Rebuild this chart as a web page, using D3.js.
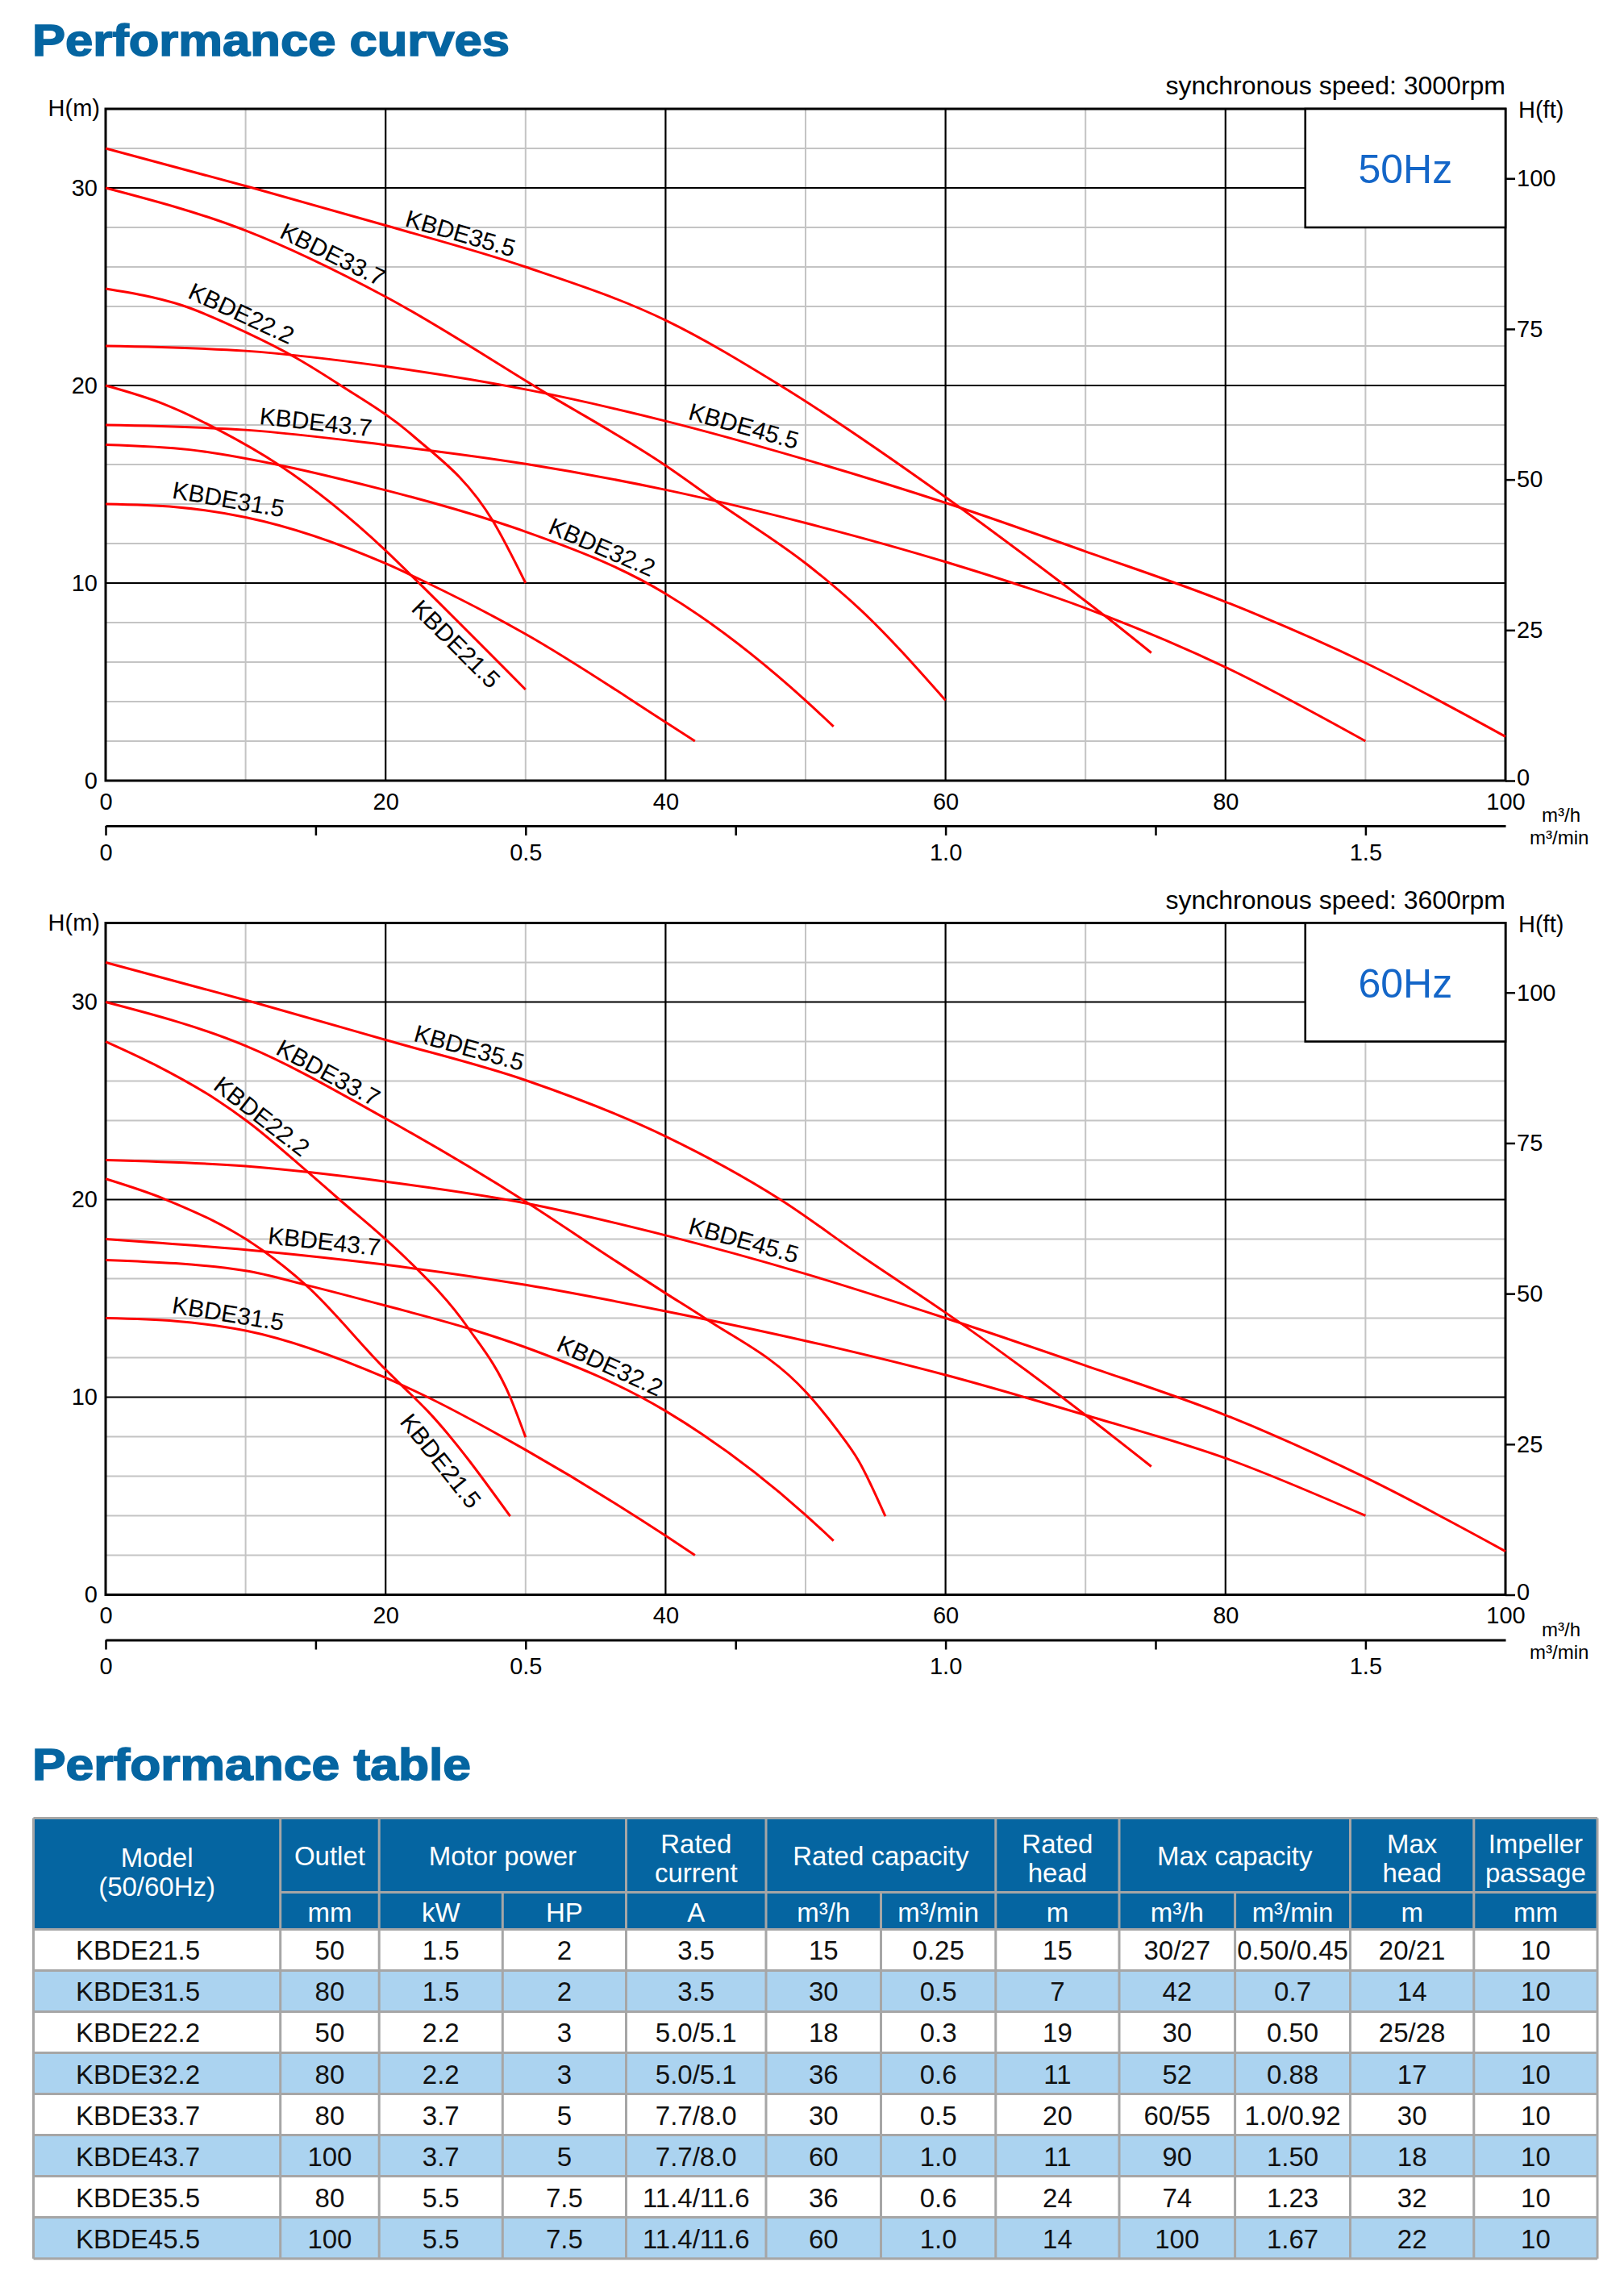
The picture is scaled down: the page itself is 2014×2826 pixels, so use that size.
<!DOCTYPE html>
<html>
<head>
<meta charset="utf-8">
<script src="https://cdn.jsdelivr.net/npm/d3@7/dist/d3.min.js"></script>
<style>
    body { margin: 0; background: #fff; }
    svg text { font-family: 'Liberation Sans', Arial, Helvetica, sans-serif; }
</style>
</head>
<body>
<div class="vis-curves"></div>
<script>
// ---- data ----
const flowTicks = [0, 20, 40, 60, 80, 100];
const flowMinor = [10, 30, 50, 70, 90];
const headTicks = [0, 10, 20, 30];
const headMinor = [2, 4, 6, 8, 12, 14, 16, 18, 22, 24, 26, 28, 32];
const ftTicks = [0, 25, 50, 75, 100];
const minTicks = [0, 0.25, 0.5, 0.75, 1.0, 1.25, 1.5];
const minLabels = ['0', '', '0.5', '', '1.0', '', '1.5'];

// Q (m3/h), H (m) points per model
const curves50 = [
    { model: 'KBDE21.5', pts: [[0, 20], [4.2, 19.05], [8.1, 17.74], [12.4, 15.97], [20, 11.65], [21.9, 10.34], [30, 4.61]] },
    { model: 'KBDE31.5', pts: [[0, 14], [5, 13.85], [10, 13.33], [20, 10.99], [23, 10], [30, 7.42], [40, 2.96], [42.1, 2]] },
    { model: 'KBDE22.2', pts: [[0, 24.9], [5.4, 24.07], [10, 22.7], [13.6, 21.4], [16.8, 20], [21.9, 17.49], [27.7, 13.1], [30, 10]] },
    { model: 'KBDE32.2', pts: [[0, 17], [6, 16.75], [12.4, 15.97], [18.2, 15.02], [20, 14.7], [27.9, 13.1], [30, 12.6], [40, 9.46], [50, 4.06], [52, 2.74]] },
    { model: 'KBDE33.7', pts: [[0, 30], [10, 27.84], [20, 24.49], [31.25, 19.7], [40, 15.95], [43.9, 14.0], [50.1, 10.95], [53.8, 8.73], [60, 4.06]] },
    { model: 'KBDE43.7', pts: [[0, 18], [10, 17.75], [20, 16.99], [30, 16.03], [40, 14.72], [50, 13.04], [60, 11.07], [70, 8.73], [80, 5.74], [90, 2]] },
    { model: 'KBDE35.5', pts: [[0, 32], [10.5, 30], [20, 28.1], [30, 26], [40, 23.3], [48.2, 20], [60, 14.35], [68.3, 10], [72, 8.0], [74.7, 6.47]] },
    { model: 'KBDE45.5', pts: [[0, 22], [10, 21.75], [20, 20.96], [30, 19.8], [40, 18.2], [50, 16.25], [60, 14.06], [70, 11.6], [80, 9.05], [90, 5.96], [100, 2.23]] },
];

const curves60 = [
    { model: 'KBDE21.5', pts: [[0, 21.05], [4.2, 20.03], [11.2, 17.44], [14.3, 15.68], [20, 11.4], [21.1, 10.63], [23, 9.3], [28.9, 3.97]] },
    { model: 'KBDE31.5', pts: [[0, 14], [5, 13.85], [10, 13.37], [20, 10.98], [23, 10], [30, 7.33], [40, 2.99], [42.1, 2]] },
    { model: 'KBDE22.2', pts: [[0, 28], [3.5, 26.83], [7.9, 25.06], [10.1, 23.97], [14.5, 21.36], [16.7, 20], [20, 17.99], [21.5, 17], [25.9, 13.5], [28.9, 10], [30, 7.97]] },
    { model: 'KBDE32.2', pts: [[0, 16.94], [10, 16.4], [14.3, 15.68], [20, 14.63], [26.1, 13.44], [30, 12.52], [40, 9.3], [50, 4.04], [52, 2.73]] },
    { model: 'KBDE33.7', pts: [[0, 30], [10, 27.78], [20, 24.1], [30, 19.9], [36.2, 17], [40, 15.26], [42.8, 14], [50.1, 10.2], [52.3, 8.3], [53.8, 6.77], [55.7, 3.97]] },
    { model: 'KBDE43.7', pts: [[0, 18], [11.4, 17.37], [20, 16.7], [30, 15.68], [40, 14.35], [50, 12.85], [60, 11.12], [70, 9.09], [80, 6.91], [90, 4]] },
    { model: 'KBDE35.5', pts: [[0, 32], [10.5, 30], [20, 28.08], [30, 26.04], [40, 23.2], [48.2, 20], [54.2, 17.04], [60, 14.28], [70, 9.09], [74.7, 6.49]] },
    { model: 'KBDE45.5', pts: [[0, 22], [10, 21.69], [20, 20.91], [30, 19.82], [40, 18.19], [50, 16.24], [60, 14], [70, 11.6], [80, 9.09], [90, 5.93], [100, 2.2]] },
];

// table columns
const models = ['KBDE21.5', 'KBDE31.5', 'KBDE22.2', 'KBDE32.2', 'KBDE33.7', 'KBDE43.7', 'KBDE35.5', 'KBDE45.5'];
const outletMm = ['50', '80', '50', '80', '80', '100', '80', '100'];
const powerKw = ['1.5', '1.5', '2.2', '2.2', '3.7', '3.7', '5.5', '5.5'];
const powerHp = ['2', '2', '3', '3', '5', '5', '7.5', '7.5'];
const ratedCurrent = ['3.5', '3.5', '5.0/5.1', '5.0/5.1', '7.7/8.0', '7.7/8.0', '11.4/11.6', '11.4/11.6'];
const ratedQh = ['15', '30', '18', '36', '30', '60', '36', '60'];
const ratedQmin = ['0.25', '0.5', '0.3', '0.6', '0.5', '1.0', '0.6', '1.0'];
const ratedHead = ['15', '7', '19', '11', '20', '11', '24', '14'];
const maxQh = ['30/27', '42', '30', '52', '60/55', '90', '74', '100'];
const maxQmin = ['0.50/0.45', '0.7', '0.50', '0.88', '1.0/0.92', '1.50', '1.23', '1.67'];
const maxHead = ['20/21', '14', '25/28', '17', '30', '18', '32', '22'];
const impellerMm = ['10', '10', '10', '10', '10', '10', '10', '10'];
const unitRow = ['mm', 'kW', 'HP', 'A', 'm³/h', 'm³/min', 'm', 'm³/h', 'm³/min', 'm', 'mm'];

// where each curve label sits: flow position along the curve, offset from it (px, + = above)
const labelPlace50 = {
    'KBDE35.5': [25.1, 16], 'KBDE33.7': [15.8, 17], 'KBDE22.2': [9.25, 19], 'KBDE43.7': [14.9, 18],
    'KBDE45.5': [45.3, 19], 'KBDE31.5': [8.6, 18], 'KBDE32.2': [35.1, 16], 'KBDE21.5': [25.9, -21],
};
const labelPlace60 = {
    'KBDE35.5': [25.7, 18], 'KBDE33.7': [15.5, 15], 'KBDE22.2': [10.6, 16], 'KBDE43.7': [15.5, 20],
    'KBDE45.5': [45.3, 19], 'KBDE31.5': [8.6, 17], 'KBDE32.2': [35.6, 18], 'KBDE21.5': [25.2, -28],
};

const blue = '#0565a1';
const width = 2014;
const height = 2826;

const svg = d3.select('.vis-curves')
    .append('svg')
    .attr('width', width)
    .attr('height', height);

svg.append('rect').attr('width', width).attr('height', height).attr('fill', '#fff');

// ---- titles ----
svg.append('text')
    .attr('x', 40).attr('y', 69)
    .attr('font-size', 56).attr('font-weight', 'bold')
    .attr('fill', blue).attr('stroke', blue).attr('stroke-width', 1.6)
    .attr('textLength', 592).attr('lengthAdjust', 'spacingAndGlyphs')
    .text('Performance curves');

svg.append('text')
    .attr('x', 40).attr('y', 2207)
    .attr('font-size', 56).attr('font-weight', 'bold')
    .attr('fill', blue).attr('stroke', blue).attr('stroke-width', 1.6)
    .attr('textLength', 544).attr('lengthAdjust', 'spacingAndGlyphs')
    .text('Performance table');

// ---- chart ----
const x = d3.scaleLinear().domain([0, 100]).range([131, 1867]);
const y = d3.scaleLinear().domain([0, 34]).range([968, 135]);
const yFt = d3.scaleLinear().domain([0, 34 / 0.3048]).range([968, 135]);
const xMin = d3.scaleLinear().domain([0, 100 / 60]).range([131, 1867]);

const drawChart = (dy, curves, place, speed, hz) => {
    const g = svg.append('g').attr('transform', 'translate(0,' + dy + ')');

    // minor grid
    g.selectAll('.vminor').data(flowMinor).enter().append('line')
        .attr('x1', (d) => x(d)).attr('x2', (d) => x(d))
        .attr('y1', y(0)).attr('y2', y(34))
        .attr('stroke', '#c4c4c4').attr('stroke-width', 2);
    g.selectAll('.hminor').data(headMinor).enter().append('line')
        .attr('x1', x(0)).attr('x2', x(100))
        .attr('y1', (d) => y(d)).attr('y2', (d) => y(d))
        .attr('stroke', '#c4c4c4').attr('stroke-width', 2);

    // major grid
    g.selectAll('.vmajor').data(flowTicks.slice(1, -1)).enter().append('line')
        .attr('x1', (d) => x(d)).attr('x2', (d) => x(d))
        .attr('y1', y(0)).attr('y2', y(34))
        .attr('stroke', '#000').attr('stroke-width', 2.2);
    g.selectAll('.hmajor').data(headTicks.slice(1)).enter().append('line')
        .attr('x1', x(0)).attr('x2', x(100))
        .attr('y1', (d) => y(d)).attr('y2', (d) => y(d))
        .attr('stroke', '#000').attr('stroke-width', 2.2);

    // frame
    g.append('rect')
        .attr('x', x(0)).attr('y', y(34))
        .attr('width', x(100) - x(0)).attr('height', y(0) - y(34))
        .attr('fill', 'none').attr('stroke', '#000').attr('stroke-width', 3);

    // Hz box
    g.append('rect')
        .attr('x', x(85.7)).attr('y', y(34))
        .attr('width', x(100) - x(85.7)).attr('height', y(28) - y(34))
        .attr('fill', '#fff').attr('stroke', '#000').attr('stroke-width', 2.6);
    g.append('text')
        .attr('x', (x(85.7) + x(100)) / 2).attr('y', 227)
        .attr('text-anchor', 'middle').attr('font-size', 50)
        .attr('fill', '#1466c8')
        .text(hz);

    // left axis
    const left = g.append('g').attr('transform', 'translate(' + x(0) + ',0)')
        .call(d3.axisLeft(y).tickValues(headTicks).tickSize(0).tickPadding(10));
    left.select('.domain').remove();
    left.selectAll('text').attr('font-size', 29).attr('fill', '#000')
        .style('font-family', "'Liberation Sans', Arial, sans-serif");

    // right axis in feet
    const right = g.append('g').attr('transform', 'translate(' + x(100) + ',0)')
        .call(d3.axisRight(yFt).tickValues(ftTicks).tickSize(12).tickPadding(2));
    right.select('.domain').remove();
    right.selectAll('line').attr('stroke', '#000').attr('stroke-width', 2.5);
    right.selectAll('text').attr('font-size', 29).attr('fill', '#000')
        .attr('dy', (d) => (d === 0 ? '0.2em' : '0.32em'))
        .style('font-family', "'Liberation Sans', Arial, sans-serif");

    // bottom axis m3/h
    const bottom = g.append('g').attr('transform', 'translate(0,' + y(0) + ')')
        .call(d3.axisBottom(x).tickValues(flowTicks).tickSize(0).tickPadding(15));
    bottom.select('.domain').remove();
    bottom.selectAll('text').attr('font-size', 29).attr('fill', '#000')
        .style('font-family', "'Liberation Sans', Arial, sans-serif");

    // second bottom axis m3/min
    const bottom2 = g.append('g').attr('transform', 'translate(0,1024)')
        .call(d3.axisBottom(xMin).tickValues(minTicks).tickSize(12).tickSizeOuter(0).tickPadding(10)
            .tickFormat((d, i) => minLabels[i]));
    bottom2.select('.domain').attr('stroke', '#000').attr('stroke-width', 3);
    bottom2.selectAll('line').attr('stroke', '#000').attr('stroke-width', 2.5);
    bottom2.selectAll('text').attr('font-size', 29).attr('fill', '#000')
        .style('font-family', "'Liberation Sans', Arial, sans-serif");

    // axis titles
    g.append('text').attr('x', 124).attr('y', 144).attr('text-anchor', 'end')
        .attr('font-size', 29).text('H(m)');
    g.append('text').attr('x', 1883).attr('y', 146)
        .attr('font-size', 29).text('H(ft)');
    g.append('text').attr('x', x(100)).attr('y', 117).attr('text-anchor', 'end')
        .attr('font-size', 32).text(speed);
    g.append('text').attr('x', 1912).attr('y', 1019)
        .attr('font-size', 24).text('m³/h');
    g.append('text').attr('x', 1897).attr('y', 1047)
        .attr('font-size', 24).text('m³/min');

    // curves
    const line = d3.line()
        .x((d) => x(d[0]))
        .y((d) => y(d[1]))
        .curve(d3.curveMonotoneX);

    curves.forEach((c) => {
        const path = g.append('path')
            .datum(c.pts)
            .attr('d', line)
            .attr('fill', 'none')
            .attr('stroke', '#ff0000')
            .attr('stroke-width', 3);

        // label along the curve
        const node = path.node();
        const total = node.getTotalLength();
        const target = x(place[c.model][0]);
        let lo = 0;
        let hi = total;
        for (let k = 0; k < 40; k++) {
            const mid = (lo + hi) / 2;
            if (node.getPointAtLength(mid).x < target) lo = mid;
            else hi = mid;
        }
        const p = node.getPointAtLength(lo);
        const p1 = node.getPointAtLength(Math.max(0, lo - 25));
        const p2 = node.getPointAtLength(Math.min(total, lo + 25));
        const ang = Math.atan2(p2.y - p1.y, p2.x - p1.x);
        const off = place[c.model][1];
        const lx = p.x + off * Math.sin(ang);
        const ly = p.y - off * Math.cos(ang);
        g.append('text')
            .attr('transform', 'translate(' + lx + ',' + ly + ') rotate(' + (ang * 180 / Math.PI) + ')')
            .attr('text-anchor', 'middle')
            .attr('dominant-baseline', 'central')
            .attr('font-size', 30)
            .attr('fill', '#000')
            .text(c.model);
    });
};

drawChart(0, curves50, labelPlace50, 'synchronous speed: 3000rpm', '50Hz');
drawChart(1009.5, curves60, labelPlace60, 'synchronous speed: 3600rpm', '60Hz');

// ---- table ----
const cols = [41.5, 347.7, 470.2, 623.3, 776.5, 950, 1092.5, 1234.8, 1388, 1531.6, 1674.5, 1827.8, 1981];
const tTop = 2254.6;
const tMid = 2346.5;
const tHead = 2392.4;
const rowH = 51.03;
const tBottom = tHead + rowH * models.length;
const gridColor = '#a6a6a6';

const groups = [
    { text: ['Outlet'], c0: 1, c1: 2 },
    { text: ['Motor power'], c0: 2, c1: 4 },
    { text: ['Rated', 'current'], c0: 4, c1: 5 },
    { text: ['Rated capacity'], c0: 5, c1: 7 },
    { text: ['Rated', 'head'], c0: 7, c1: 8 },
    { text: ['Max capacity'], c0: 8, c1: 10 },
    { text: ['Max', 'head'], c0: 10, c1: 11 },
    { text: ['Impeller', 'passage'], c0: 11, c1: 12 },
];

const rows = models.map((m, i) => [m, outletMm[i], powerKw[i], powerHp[i], ratedCurrent[i], ratedQh[i],
    ratedQmin[i], ratedHead[i], maxQh[i], maxQmin[i], maxHead[i], impellerMm[i]]);

const tg = svg.append('g');

tg.append('rect')
    .attr('x', cols[0]).attr('y', tTop)
    .attr('width', cols[12] - cols[0]).attr('height', tHead - tTop)
    .attr('fill', blue);

tg.selectAll('.row').data(rows).enter().append('rect')
    .attr('x', cols[0])
    .attr('y', (d, i) => tHead + i * rowH)
    .attr('width', cols[12] - cols[0])
    .attr('height', rowH)
    .attr('fill', (d, i) => (i % 2 ? '#abd3f0' : '#fff'));

// header text
const hText = (cx, lines, cy) => {
    const t = tg.append('text').attr('text-anchor', 'middle').attr('font-size', 33).attr('fill', '#fff');
    lines.forEach((l, k) => {
        t.append('tspan').attr('x', cx)
            .attr('y', cy + (k - (lines.length - 1) / 2) * 36)
            .attr('dominant-baseline', 'central')
            .text(l);
    });
};
hText((cols[0] + cols[1]) / 2, ['Model', '(50/60Hz)'], 2321);
groups.forEach((gr) => hText((cols[gr.c0] + cols[gr.c1]) / 2, gr.text, gr.text.length > 1 ? 2304 : 2301));
unitRow.forEach((u, i) => {
    tg.append('text')
        .attr('x', (cols[i + 1] + cols[i + 2]) / 2).attr('y', 2371)
        .attr('text-anchor', 'middle').attr('dominant-baseline', 'central')
        .attr('font-size', 33).attr('fill', '#fff')
        .text(u);
});

// body text
rows.forEach((r, i) => {
    r.forEach((v, j) => {
        tg.append('text')
            .attr('x', j === 0 ? 94 : (cols[j] + cols[j + 1]) / 2)
            .attr('y', tHead + i * rowH + rowH / 2 + 1)
            .attr('text-anchor', j === 0 ? 'start' : 'middle')
            .attr('dominant-baseline', 'central')
            .attr('font-size', 33).attr('fill', '#111')
            .text(v);
    });
});

// borders
const hLines = [[cols[0], tTop], [cols[1], tMid], [cols[0], tHead]]
    .concat(d3.range(1, models.length + 1).map((k) => [cols[0], tHead + k * rowH]));
tg.selectAll('.hl').data(hLines).enter().append('line')
    .attr('x1', (d) => d[0]).attr('x2', cols[12])
    .attr('y1', (d) => d[1]).attr('y2', (d) => d[1])
    .attr('stroke', gridColor).attr('stroke-width', 3);

const groupEdges = [0, 1, 2, 4, 5, 7, 8, 10, 11, 12];
tg.selectAll('.vl').data(cols).enter().append('line')
    .attr('x1', (d) => d).attr('x2', (d) => d)
    .attr('y1', (d, i) => (groupEdges.includes(i) ? tTop : tMid))
    .attr('y2', tBottom)
    .attr('stroke', gridColor).attr('stroke-width', 3);
</script>
</body>
</html>
